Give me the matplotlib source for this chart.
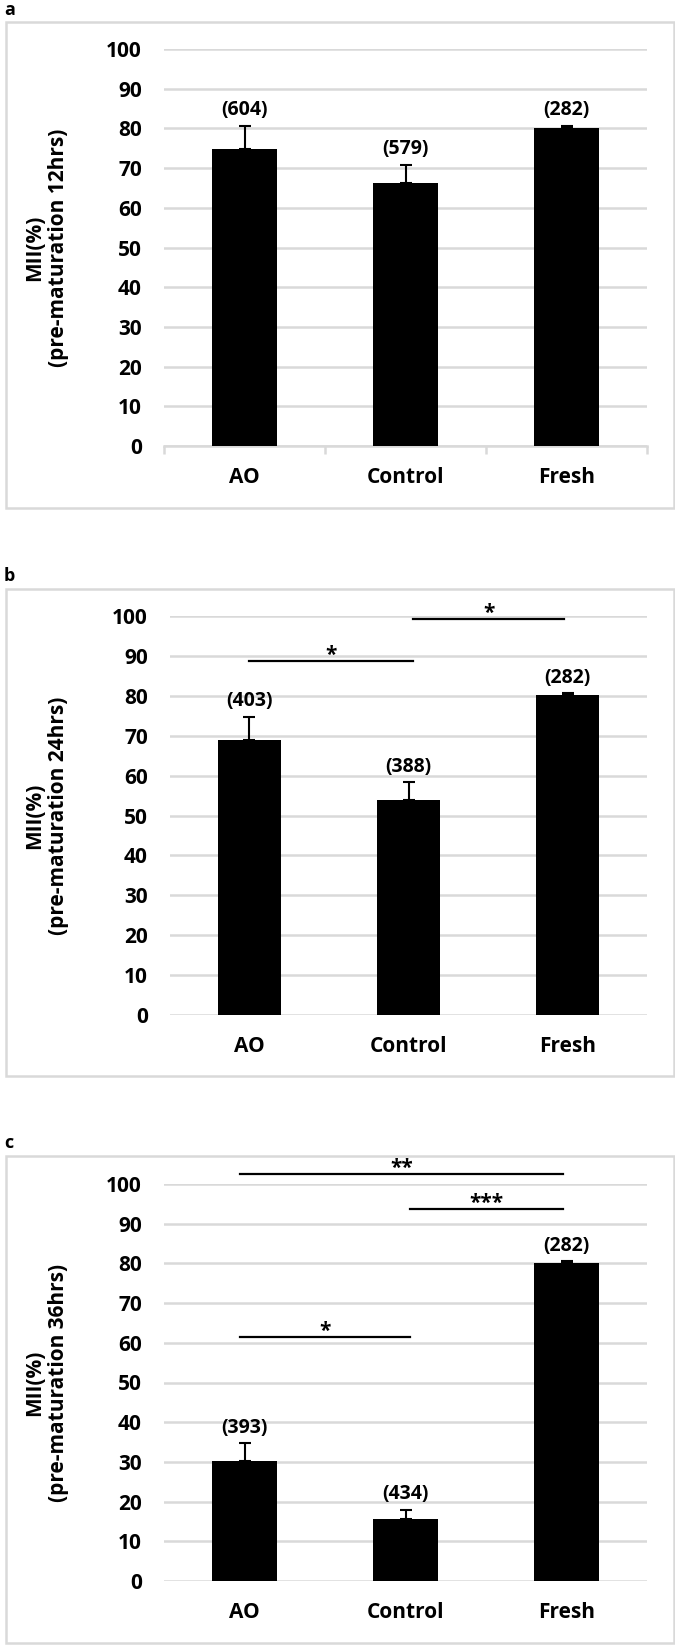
import numpy as np
import matplotlib
matplotlib.use('Agg')
import matplotlib.pyplot as plt
from matplotlib.patches import Rectangle

# Data
categories = ['AO', 'Control', 'Fresh']
panel_letters = ['a', 'b', 'c']
hours = ['12hrs', '24hrs', '36hrs']
mii_12 = [74.7, 66.3, 80.1]
err_12 = [5.9, 4.5, 0.5]
n_12 = ['(604)', '(579)', '(282)']
mii_24 = [68.9, 53.8, 80.1]
err_24 = [5.8, 4.5, 0.5]
n_24 = ['(403)', '(388)', '(282)']
mii_36 = [30.2, 15.5, 80.1]
err_36 = [4.5, 2.4, 0.4]
n_36 = ['(393)', '(434)', '(282)']
# significance: (from, to, height, stars)
sig_12 = []
sig_24 = [(0.0, 1.03, 88.7, '*'), (1.03, 1.98, 99.3, '*')]
sig_36 = [(-0.03, 1.98, 102.5, '**'), (1.03, 1.98, 93.7, '***'), (-0.03, 1.03, 61.5, '*')]

plt.rcParams['font.family'] = ['Open Sans', 'DejaVu Sans']
W, H = 675, 1646
fig = plt.figure(figsize=(W / 100, H / 100), dpi=100)

grid_col = '#d9d9d9'

# axes boxes in pixels: left, right, y(100), y(0)
ax_px = [(164, 647, 49, 446), (170, 647, 616, 1015), (164, 647, 1184, 1581)]
frame_px = [(6, 674, 22, 508), (6, 674, 589, 1076), (6, 674, 1156, 1643)]
letter_px = [(4, 10), (4, 576), (4, 1143)]

values = [mii_12, mii_24, mii_36]
errors = [err_12, err_24, err_36]
counts = [n_12, n_24, n_36]
sigs = [sig_12, sig_24, sig_36]

for i in range(3):
    # panel frame
    fx0, fx1, fy0, fy1 = frame_px[i]
    fig.patches.append(Rectangle((fx0 / W, 1 - fy1 / H), (fx1 - fx0) / W, (fy1 - fy0) / H,
                                 transform=fig.transFigure, fill=False,
                                 edgecolor=grid_col, linewidth=1.8))
    lx, ly = letter_px[i]
    fig.text(lx / W, 1 - ly / H, panel_letters[i], fontsize=13, fontweight='bold',
             ha='left', va='center')

    x0, x1, ytop, ybot = ax_px[i]
    ax = fig.add_axes([x0 / W, 1 - ybot / H, (x1 - x0) / W, (ybot - ytop) / H])
    x = np.arange(len(categories))
    ax.bar(x, values[i], width=0.4, color='black', zorder=3)
    ax.errorbar(x, values[i], yerr=[np.zeros(3), errors[i]], fmt='none',
                ecolor='black', elinewidth=1.5, capsize=4, capthick=1.5, zorder=4)
    for xi, v, e, n in zip(x, values[i], errors[i], counts[i]):
        ax.annotate(n, (xi, v + e), xytext=(0, 4), textcoords='offset points',
                    ha='center', va='bottom', fontsize=14, fontweight='bold')

    for a, b, h, s in sigs[i]:
        ax.plot([a, b], [h, h], color='black', lw=1.6, clip_on=False, zorder=5)
        ax.text((a + b) / 2, h - 1.2, s, ha='center', va='bottom', fontsize=15,
                fontweight='bold')

    ax.set_xlim(-0.5, 2.5)
    ax.set_ylim(0, 100)
    ax.set_yticks(np.arange(0, 101, 10))
    ax.set_xticks(x)
    ax.set_xticklabels(categories, fontsize=15, fontweight='bold')
    for lab in ax.get_yticklabels():
        lab.set_fontsize(15)
        lab.set_fontweight('bold')
    ax.tick_params(axis='y', length=0, pad=16)
    ax.tick_params(axis='x', length=0, pad=15)
    ax.yaxis.grid(True, color=grid_col, linewidth=1.8, zorder=0)
    ax.set_axisbelow(True)
    for sp in ['top', 'right', 'left']:
        ax.spines[sp].set_visible(False)
    if i == 0:
        ax.spines['bottom'].set_color(grid_col)
        ax.spines['bottom'].set_linewidth(1.8)
        ax.set_xticks([-0.5, 0.5, 1.5, 2.5], minor=True)
        ax.tick_params(axis='x', which='minor', length=6, width=1.8, color=grid_col)
    else:
        ax.spines['bottom'].set_visible(False)

    ax.set_ylabel('MII(%)\n(pre-maturation ' + hours[i] + ')', fontsize=15,
                  fontweight='bold', linespacing=1.2)
    ax.yaxis.set_label_coords((69 - x0) / (x1 - x0), 0.5)

fig.savefig('out.png', dpi=100)
